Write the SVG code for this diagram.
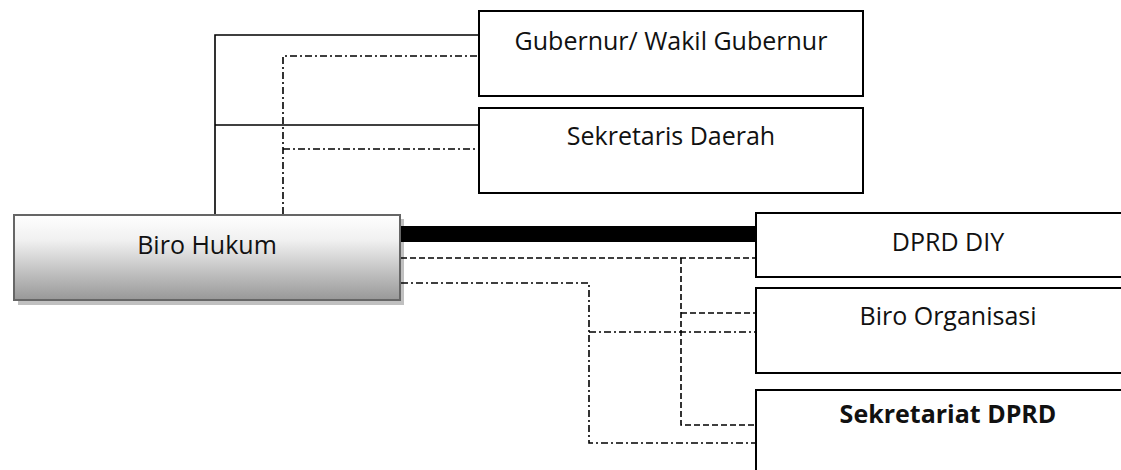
<svg xmlns="http://www.w3.org/2000/svg" width="1121" height="470" viewBox="0 0 1121 470">
  <style>
    .box { fill: #ffffff; stroke: #000000; stroke-width: 2; }
    .lbl { font-family: "Open Sans", "Noto Sans", "Liberation Sans", sans-serif; font-size: 25px; fill: #111111; text-anchor: middle; }
    .bold { font-weight: bold; }
    .solid { fill: none; stroke: #000000; stroke-width: 1.6; }
    .dash { fill: none; stroke: #000000; stroke-width: 1.6; stroke-dasharray: 6 3; }
    .dashdot { fill: none; stroke: #000000; stroke-width: 1.6; stroke-dasharray: 7 3 2 3; }
    .thick { fill: none; stroke: #000000; stroke-width: 16; }
  </style>
  <defs>
    <linearGradient id="grayFade" x1="0" y1="0" x2="0" y2="1">
      <stop offset="0" stop-color="#ffffff"/>
      <stop offset="0.3" stop-color="#f0f0f0"/>
      <stop offset="1" stop-color="#989898"/>
    </linearGradient>
  </defs>

  <g id="biro-hukum">
    <rect x="18" y="219" width="386" height="86" fill="#c0c0c0"/>
    <rect x="14" y="215" width="386" height="85" fill="url(#grayFade)" stroke="#666666" stroke-width="2"/>
    <text class="lbl" x="207" y="254">Biro Hukum</text>
  </g>

  <g id="gubernur">
    <rect class="box" x="479" y="11" width="384" height="85"/>
    <text class="lbl" x="671" y="50">Gubernur/ Wakil Gubernur</text>
  </g>

  <g id="sekretaris-daerah">
    <rect class="box" x="479" y="108" width="384" height="85"/>
    <text class="lbl" x="671" y="145">Sekretaris Daerah</text>
  </g>

  <g id="dprd-diy">
    <rect class="box" x="756" y="213" width="384" height="64"/>
    <text class="lbl" x="948" y="251">DPRD DIY</text>
  </g>

  <g id="biro-organisasi">
    <rect class="box" x="756" y="288" width="384" height="85"/>
    <text class="lbl" x="948" y="325">Biro Organisasi</text>
  </g>

  <g id="sekretariat-dprd">
    <rect class="box" x="756" y="390" width="384" height="100"/>
    <text class="lbl bold" x="948" y="423">Sekretariat DPRD</text>
  </g>

  <g id="connectors">
    <!-- solid reporting lines up to the governor and regional secretary -->
    <polyline class="solid" points="215,214 215,35 478,35"/>
    <line class="solid" x1="215" y1="125" x2="478" y2="125"/>
    <!-- dash-dot coordination lines on the upper side -->
    <polyline class="dashdot" points="283,214 283,56 478,56"/>
    <line class="dashdot" x1="283" y1="149" x2="478" y2="149"/>
    <!-- heavy link to DPRD DIY -->
    <line class="thick" x1="401" y1="234" x2="755" y2="234"/>
    <!-- dashed branch -->
    <line class="dash" x1="401" y1="258" x2="755" y2="258"/>
    <polyline class="dash" points="681,258 681,425 755,425"/>
    <line class="dash" x1="681" y1="313" x2="755" y2="313"/>
    <!-- dash-dot branch -->
    <polyline class="dashdot" points="401,283 589,283 589,443 755,443"/>
    <line class="dashdot" x1="589" y1="332" x2="755" y2="332"/>
  </g>
</svg>
